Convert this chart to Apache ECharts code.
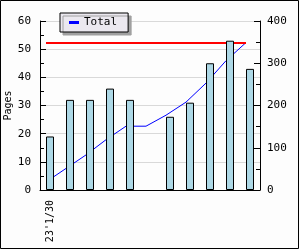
<!DOCTYPE html>
<html><head><meta charset="utf-8">
<script src="https://cdn.jsdelivr.net/npm/echarts@6/dist/echarts.min.js"></script>
<style>html,body{margin:0;padding:0;background:#fff}#c{width:300px;height:250px}</style>
</head><body><div id="c"></div>
<script>
var categories = ["23'1/30", "", "", "", "", "", "", "", "", "", ""];
var pages = [19, 32, 32, 36, 32, null, 26, 31, 45, 53, 43];
var totals = [19, 51, 83, 119, 151, 151, 177, 208, 253, 306, 349];
var leftTicks = {min: 0, max: 60, interval: 10};
var rightTicks = {min: 0, max: 400, interval: 100};
var target = totals[totals.length - 1];

var font = '"DejaVu Sans Mono", monospace';
var chart = echarts.init(document.getElementById('c'), null, {renderer: 'canvas'});
chart.setOption({
  animation: false,
  backgroundColor: '#fdfdfd',
  textStyle: {fontFamily: font, fontSize: 10, color: '#000'},
  graphic: [{type: 'rect', shape: {x: 0.5, y: 0.5, width: 298, height: 248}, style: {fill: 'none', stroke: '#000', lineWidth: 1}, z: 100}],
  legend: {
    data: ['Total'], left: 60, top: 13,
    icon: 'rect', itemWidth: 10, itemHeight: 3, itemGap: 5,
    padding: [4, 11, 4, 9],
    backgroundColor: '#ebe8ef', borderColor: '#000', borderWidth: 1,
    shadowColor: '#a0a0a0', shadowBlur: 0, shadowOffsetX: 3, shadowOffsetY: 3,
    textStyle: {fontFamily: font, fontSize: 11, color: '#000'}
  },
  grid: [
    {left: 40, right: 40, top: 21, bottom: 60, containLabel: false, outerBoundsMode: 'none'},
    {left: 36, right: 44, top: 21, bottom: 60, containLabel: false, outerBoundsMode: 'none'}
  ],
  xAxis: [
    {type: 'category', gridIndex: 0, data: categories, boundaryGap: true,
     axisLine: {lineStyle: {color: '#000'}},
     axisTick: {inside: true, length: 5, interval: 0, lineStyle: {color: '#000'}},
     axisLabel: {interval: 0, rotate: 90, margin: 10, color: '#000', fontFamily: font, fontSize: 10}},
    {type: 'category', gridIndex: 1, data: categories, boundaryGap: true, show: false}
  ],
  yAxis: [
    {type: 'value', gridIndex: 0, min: leftTicks.min, max: leftTicks.max, interval: leftTicks.interval,
     name: 'Pages', nameLocation: 'middle', nameGap: 27, nameRotate: 90, nameMoveOverlap: false,
     nameTextStyle: {fontFamily: font, fontSize: 10, color: '#000'},
     axisLine: {show: true, lineStyle: {color: '#000'}},
     axisTick: {show: true, inside: true, length: 6, lineStyle: {color: '#000'}},
     minorTick: {show: true, splitNumber: 2, length: 4, lineStyle: {color: '#000'}},
     axisLabel: {margin: 9, color: '#000', fontFamily: font, fontSize: 11},
     splitLine: {show: true, lineStyle: {color: '#d9d9d9'}}},
    {type: 'value', gridIndex: 0, position: 'right', min: rightTicks.min, max: rightTicks.max, interval: rightTicks.interval,
     axisLine: {show: true, lineStyle: {color: '#000'}},
     axisTick: {show: true, inside: true, length: 6, lineStyle: {color: '#000'}},
     minorTick: {show: true, splitNumber: 2, length: 4, lineStyle: {color: '#000'}},
     axisLabel: {margin: 7, color: '#000', fontFamily: font, fontSize: 11},
     splitLine: {show: false}},
    {type: 'value', gridIndex: 1, min: rightTicks.min, max: rightTicks.max, show: false, splitLine: {show: false}}
  ],
  series: [
    {name: 'Total', type: 'line', xAxisIndex: 1, yAxisIndex: 2, data: totals,
     showSymbol: false, symbol: 'none', color: '#0000ff',
     lineStyle: {width: 1, color: '#0000ff'}, z: 2,
     markLine: {silent: true, symbol: 'none', label: {show: false},
       lineStyle: {color: '#ff0000', width: 2, type: 'solid'},
       data: [[{coord: [0, target]}, {coord: [totals.length - 1, target]}]]}},
    {name: 'Pages', type: 'bar', xAxisIndex: 0, yAxisIndex: 0, data: pages,
     barWidth: 8, z: 5,
     itemStyle: {color: '#add8e6', borderColor: '#000', borderWidth: 1}}
  ]
});
</script></body></html>
